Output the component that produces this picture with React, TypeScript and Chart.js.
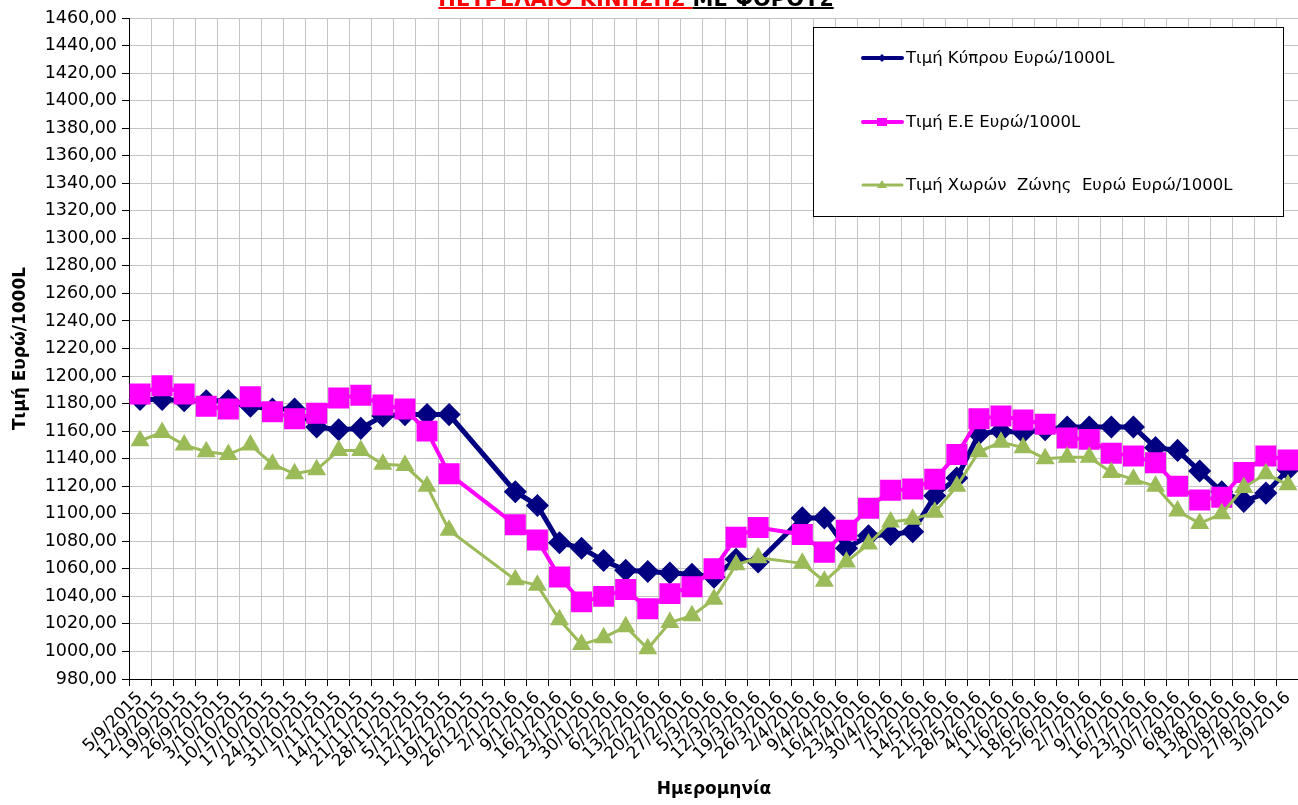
import React, { useEffect, useRef } from 'react';
import { Chart, registerables } from 'chart.js';

Chart.register(...registerables);

const dates: string[] = [
  '5/9/2015', '12/9/2015', '19/9/2015', '26/9/2015', '3/10/2015', '10/10/2015', '17/10/2015',
  '24/10/2015', '31/10/2015', '7/11/2015', '14/11/2015', '21/11/2015', '28/11/2015', '5/12/2015',
  '12/12/2015', '19/12/2015', '26/12/2015', '2/1/2016', '9/1/2016', '16/1/2016', '23/1/2016',
  '30/1/2016', '6/2/2016', '13/2/2016', '20/2/2016', '27/2/2016', '5/3/2016', '12/3/2016',
  '19/3/2016', '26/3/2016', '2/4/2016', '9/4/2016', '16/4/2016', '23/4/2016', '30/4/2016',
  '7/5/2016', '14/5/2016', '21/5/2016', '28/5/2016', '4/6/2016', '11/6/2016', '18/6/2016',
  '25/6/2016', '2/7/2016', '9/7/2016', '16/7/2016', '23/7/2016', '30/7/2016', '6/8/2016',
  '13/8/2016', '20/8/2016', '27/8/2016', '3/9/2016',
];

const cyprusPrice: (number | null)[] = [
  1183, 1183, 1182, 1182, 1182, 1178, 1176, 1176, 1163, 1161, 1162, 1171, 1172, 1172, 1172,
  null, null,
  1116, 1106, 1079, 1075, 1066, 1059, 1058, 1057, 1056, 1054, 1067, 1065,
  null,
  1097, 1097, 1075, 1084, 1085, 1087, 1113, 1126, 1158, 1160, 1159, 1161, 1163, 1163, 1163, 1163,
  1148, 1146, 1131, 1116, 1109, 1115, 1132,
];

const euPrice: (number | null)[] = [
  1187, 1193, 1187, 1178, 1176, 1185, 1174, 1169, 1173, 1184, 1186, 1179, 1176, 1160, 1129,
  null, null,
  1092, 1081, 1054, 1036, 1040, 1045, 1031, 1042, 1047, 1060, 1083, 1090,
  null,
  1085, 1072, 1088, 1104, 1117, 1118, 1125, 1143, 1169, 1171, 1168, 1165, 1155, 1154, 1144, 1142,
  1137, 1120, 1110, 1112, 1130, 1142, 1139,
];

const euroZonePrice: (number | null)[] = [
  1153, 1159, 1150, 1145, 1143, 1150, 1136, 1129, 1132, 1146, 1146, 1136, 1135, 1120, 1088,
  null, null,
  1052, 1048, 1023, 1005, 1010, 1018, 1002, 1021, 1026, 1038, 1063, 1068,
  null,
  1064, 1051, 1065, 1078, 1094, 1096, 1101, 1120, 1145, 1152, 1148, 1140, 1141, 1141, 1130, 1125,
  1120, 1102, 1093, 1100, 1119, 1129, 1121,
];

const seriesNames: string[] = [
  'Τιμή Κύπρου Ευρώ/1000L',
  'Τιμή Ε.Ε Ευρώ/1000L',
  'Τιμή Χωρών  Ζώνης  Ευρώ Ευρώ/1000L',
];

const yMin = 980;
const yMax = 1460;
const yStep = 20;

const titleRed = 'ΠΕΤΡΕΛΑΙΟ ΚΙΝΗΣΗΣ ';
const titleBlack = 'ΜΕ ΦΟΡΟΥΣ';
const yAxisTitle = 'Τιμή Ευρώ/1000L';
const xAxisTitle = 'Ημερομηνία';

const NAVY = '#000080';
const MAGENTA = '#FF00FF';
const OLIVE = '#9BBB59';
const FONT = '"DejaVu Sans", "Liberation Sans", Arial, sans-serif';

// canvas is a little wider than the page so the plot runs to the right edge (as in the reference)
const CANVAS_W = 1315;
const CANVAS_H = 805;

function drawMarker(ctx: CanvasRenderingContext2D, kind: string, x: number, y: number, color: string) {
  ctx.save();
  ctx.fillStyle = color;
  ctx.beginPath();
  if (kind === 'diamond') {
    ctx.moveTo(x - 4, y);
    ctx.lineTo(x, y - 4);
    ctx.lineTo(x + 4, y);
    ctx.lineTo(x, y + 4);
    ctx.closePath();
  } else if (kind === 'square') {
    ctx.rect(x - 5, y - 4, 10, 8);
  } else {
    ctx.moveTo(x, y - 5);
    ctx.lineTo(x + 5, y + 3);
    ctx.lineTo(x - 5, y + 3);
    ctx.closePath();
  }
  ctx.fill();
  ctx.restore();
}

const decorPlugin = {
  id: 'decor',
  afterDraw(chart: any) {
    const ctx: CanvasRenderingContext2D = chart.ctx;
    ctx.save();
    // Title (cut by the top edge as in the reference)
    ctx.font = `bold 21px ${FONT}`;
    ctx.textBaseline = 'alphabetic';
    ctx.textAlign = 'left';
    const wRed = ctx.measureText(titleRed).width;
    const wBlack = ctx.measureText(titleBlack).width;
    const cx = 636;
    const x0 = cx - (wRed + wBlack) / 2;
    ctx.fillStyle = '#FF0000';
    ctx.fillText(titleRed, x0, 6);
    ctx.fillRect(x0, 7, wRed, 2);
    ctx.fillStyle = '#000000';
    ctx.fillText(titleBlack, x0 + wRed, 6);
    ctx.fillRect(x0 + wRed, 7, wBlack, 2);

    // Legend box
    const bx = 813, by = 27, bw = 470, bh = 189;
    ctx.fillStyle = '#ffffff';
    ctx.fillRect(bx, by, bw, bh);
    ctx.strokeStyle = '#000000';
    ctx.lineWidth = 1;
    ctx.strokeRect(bx + 0.5, by + 0.5, bw, bh);

    const colors = [NAVY, MAGENTA, OLIVE];
    const widths = [4, 4, 3];
    const kinds = ['diamond', 'square', 'triangle'];
    const rows = [58, 122, 185];
    ctx.font = `16.5px ${FONT}`;
    ctx.textBaseline = 'middle';
    seriesNames.forEach((name, i) => {
      const y = rows[i];
      ctx.strokeStyle = colors[i];
      ctx.lineWidth = widths[i];
      ctx.lineCap = 'round';
      ctx.beginPath();
      ctx.moveTo(863, y);
      ctx.lineTo(902, y);
      ctx.stroke();
      drawMarker(ctx, kinds[i], 882, y, colors[i]);
      ctx.fillStyle = '#000000';
      ctx.fillText(name, 906, y + 1);
    });
    ctx.restore();
  },
};

export default function App() {
  const canvasRef = useRef<HTMLCanvasElement>(null);

  useEffect(() => {
    if (!canvasRef.current) return;
    const chart = new Chart(canvasRef.current, {
      type: 'line',
      data: {
        labels: dates,
        datasets: [
          {
            label: seriesNames[0],
            data: cyprusPrice,
            borderColor: NAVY,
            backgroundColor: NAVY,
            borderWidth: 5,
            pointStyle: 'rectRot',
            pointRadius: 8,
            pointBackgroundColor: NAVY,
            pointBorderColor: NAVY,
            spanGaps: true,
            tension: 0,
            order: 2,
          },
          {
            label: seriesNames[1],
            data: euPrice,
            borderColor: MAGENTA,
            backgroundColor: MAGENTA,
            borderWidth: 4,
            pointStyle: 'rect',
            pointRadius: 12,
            pointBackgroundColor: MAGENTA,
            pointBorderColor: MAGENTA,
            spanGaps: true,
            tension: 0,
            order: 1,
          },
          {
            label: seriesNames[2],
            data: euroZonePrice,
            borderColor: OLIVE,
            backgroundColor: OLIVE,
            borderWidth: 3,
            pointStyle: 'triangle',
            pointRadius: 8,
            pointBackgroundColor: OLIVE,
            pointBorderColor: OLIVE,
            spanGaps: true,
            tension: 0,
            order: 0,
          },
        ],
      },
      options: {
        responsive: false,
        animation: false,
        devicePixelRatio: 1,
        layout: { padding: { left: 0, right: 0, top: 18, bottom: 0 } },
        plugins: {
          legend: { display: false },
          tooltip: { enabled: false },
          title: { display: false },
        },
        scales: {
          x: {
            type: 'category',
            offset: true,
            grid: {
              offset: true,
              color: '#c4c4c4',
              tickColor: '#000000',
              tickLength: 7,
              lineWidth: 1,
            },
            border: { display: true, color: '#000000', width: 1 },
            ticks: {
              autoSkip: false,
              minRotation: 45,
              maxRotation: 45,
              padding: 2,
              color: '#000000',
              font: { family: FONT, size: 17 },
            },
            title: {
              display: true,
              text: xAxisTitle,
              color: '#000000',
              font: { family: FONT, size: 17, weight: 'bold' },
              padding: { top: 0, bottom: 5 },
            },
            afterFit(scale: any) {
              scale.height = 126;
            },
          },
          y: {
            type: 'linear',
            min: yMin,
            max: yMax,
            grid: {
              color: '#c4c4c4',
              tickColor: '#000000',
              tickLength: 7,
              lineWidth: 1,
            },
            border: { display: true, color: '#000000', width: 1 },
            ticks: {
              stepSize: yStep,
              padding: 5,
              color: '#000000',
              font: { family: FONT, size: 17.5 },
              callback: (v: any) => Number(v).toFixed(2).replace('.', ','),
            },
            title: {
              display: true,
              text: yAxisTitle,
              color: '#000000',
              font: { family: FONT, size: 17, weight: 'bold' },
              padding: { top: 10, bottom: 0 },
            },
            afterFit(scale: any) {
              scale.width = 129;
            },
          },
        },
      },
      plugins: [decorPlugin],
    });
    return () => chart.destroy();
  }, []);

  return (
    <div
      style={{
        position: 'absolute',
        left: 0,
        top: 0,
        width: 1298,
        height: CANVAS_H,
        overflow: 'hidden',
        background: '#ffffff',
      }}
    >
      <canvas ref={canvasRef} width={CANVAS_W} height={CANVAS_H} style={{ display: 'block' }} />
    </div>
  );
}
